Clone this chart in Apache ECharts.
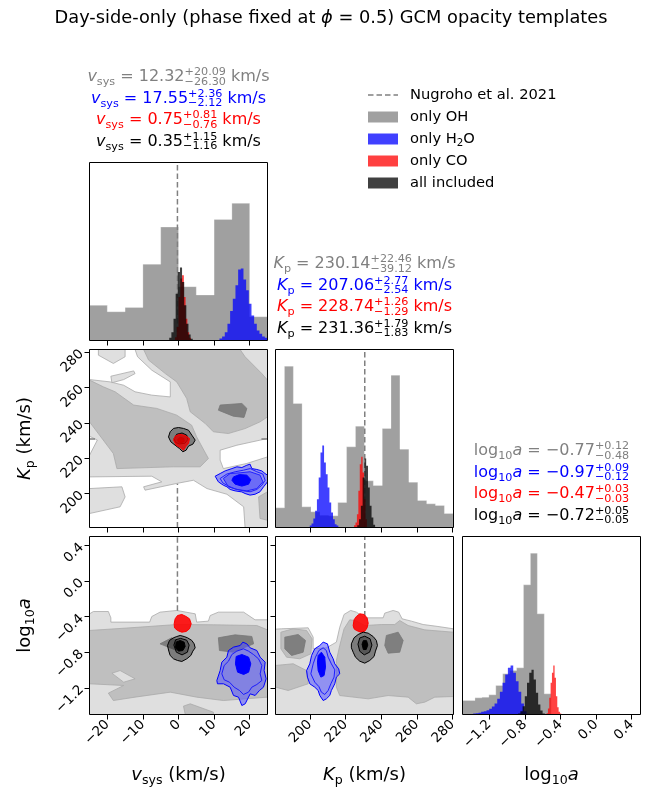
<!DOCTYPE html>
<html><head><meta charset="utf-8">
<script src="https://cdn.jsdelivr.net/npm/echarts@6/dist/echarts.min.js"></script>
<style>html,body{margin:0;padding:0;background:#fff}#c{width:662px;height:790px}</style>
</head><body><div id="c"></div>
<script>
// ---------------- DATA ----------------
const nugVsys = -0.3;
const nugKp = 230.8;

const vsysEdgesOH = [-25,-20,-15,-10,-5,0,5,10,15,20,25];
const vsysOH = [105,86,99,228,339,161,136,362,410,71];
const vsysEdgesH2O = [11.5,12.25,13,13.75,14.5,15.25,16,16.75,17.5,18.25,19,19.75,20.5,21.25,22,22.75,23.5,24.25,25];
const vsysH2O = [6,12,25,50,88,125,165,212,215,182,150,110,75,50,30,20,12,8];
const vsysEdgesCO = [-1,-0.5,0,0.5,1,1.5,2,2.5,3,3.5];
const vsysCO = [10,40,130,185,195,130,65,25,8];
const vsysEdgesAll = [-2.6,-2,-1.4,-0.8,-0.2,0.4,1,1.6,2.2,2.8,3.4,4];
const vsysAll = [8,25,65,140,205,218,175,105,50,18,5];

const kpEdgesOH = [180.8,185.8,190.8,195.7,200.7,205.7,210.7,215.7,220.6,225.6,230.6,235.6,240.6,245.5,250.5,255.5,260.5,265.5,270.4,275.4,280.4];
const kpOH = [59,484,372,62,47,37,35,75,242,304,140,126,297,457,235,136,81,71,66,42];
const kpEdgesH2O = [200,201,202,203,204,205,206,207,208,209,210,211,212,213,214,215,216];
const kpH2O = [6,12,27,50,85,150,225,246,195,160,120,75,45,25,10,6];
const kpEdgesCO = [224.8,225.6,226.4,227.2,228,228.8,229.6,230.4,231.2,232];
const kpCO = [7,15,40,110,190,212,165,85,25];
const kpEdgesAll = [226.6,227.6,228.6,229.6,230.6,231.6,232.6,233.6,234.6,235.6,236.6];
const kpAll = [7,25,65,150,207,185,120,65,30,8];

const logEdgesOH = [-1.5,-1.438,-1.36,-1.282,-1.204,-1.126,-1.048,-0.97,-0.892,-0.815,-0.737,-0.659,-0.581,-0.503];
const logOH = [42,42,50,52,59,87,122,132,140,389,484,302,62];
const logEdgesH2O = [-1.38,-1.35,-1.32,-1.29,-1.26,-1.23,-1.2,-1.17,-1.14,-1.11,-1.08,-1.05,-1.02,-0.99,-0.96,-0.93,-0.9,-0.87,-0.84,-0.81,-0.78,-0.75];
const logH2O = [3,4,5,8,10,13,17,24,33,47,68,95,120,140,147,125,100,68,33,10,2];
const logEdgesCO = [-0.555,-0.54,-0.525,-0.51,-0.495,-0.48,-0.465,-0.45,-0.435,-0.42,-0.405,-0.39,-0.375];
const logCO = [4,18,50,95,125,147,110,55,22,8,3,1];
const logEdgesAll = [-0.875,-0.85,-0.825,-0.8,-0.775,-0.75,-0.725,-0.7,-0.675,-0.65,-0.625,-0.6,-0.575];
const logAll = [3,10,25,55,95,125,134,105,65,30,12,3];

// OH contours (v_sys, K_p)
const ohVK_light = [[-25,180.8],[25,180.8],[25,281.4],[-25,281.4]];
const ohVK_white1 = [[-25,281.4],[-22.5,281.4],[-22.5,278.2],[-18.3,273.5],[-15,277.3],[-15,281.4],[-12.2,281.4],[-11.5,277.3],[-7.5,269.7],[-2.3,263.1],[-2.3,254.6],[-7.5,255.6],[-12.2,257.5],[-15.4,261.2],[-19.2,263.1],[-25,264.4]];
const ohVK_light3 = [[-19.0,266.3],[-12.6,269.3],[-12.2,267.8],[-15.4,264.4],[-18.7,262.6]];
const ohVK_white2 = [[-25,232.4],[-22.8,230.2],[-25,221.6]];
const ohVK_white3 = [[-25,209.4],[-7.5,209.8],[-4.7,206.6],[-9.8,203.8],[-9.4,201.9],[-0.5,205.7],[4.2,207.5],[8.0,202.8],[13.6,199.6],[18.3,192.5],[18.7,180.8],[-25,180.8]];
const ohVK_white4 = [[11.7,224.5],[16.4,227.3],[25,231.1],[25,220.7],[19.2,217.0],[12.6,214.1],[11.7,218.9]];
const ohVK_light2 = [[-25,202.8],[-15.9,203.8],[-15,198.1],[-16.4,192.5],[-25,188.7]];
const ohVK_mid1 = [[-9.8,281.4],[17.3,281.4],[18.7,277.3],[23.4,267.8],[25,264.1],[25,243.3],[22.9,240.5],[18.7,236.7],[14.0,233.9],[9.8,234.9],[7.5,239.6],[3.3,246.2],[2.3,253.7],[-0.5,263.1],[-3.7,267.8],[-8.4,275.4]];
const ohVK_mid2 = [[-25,264.1],[-21.1,260.3],[-17.8,257.5],[-12.6,250.0],[-6.1,248.1],[-0.5,244.3],[3.7,238.6],[5.1,232.0],[8.4,219.8],[6.1,215.1],[-1.4,215.1],[-17.3,214.1],[-18.3,222.6],[-25,240.5]];
const ohVK_mid3 = [[22.5,198.1],[25,201.0],[25,184.9],[22.9,185.9]];
const ohVK_dark1 = [[11.7,250.0],[17.8,250.9],[19.2,248.1],[18.4,243.0],[15.4,243.7],[11.2,247.1]];

// OH contours (v_sys, log10 a)
const ohVA_light = [[-25,-0.369],[-23.9,-0.343],[-19.7,-0.343],[-19.0,-0.414],[-19.0,-0.462],[-8.1,-0.462],[-7.5,-0.399],[-5.2,-0.350],[-0.5,-0.331],[4.7,-0.369],[5.1,-0.462],[8.4,-0.451],[8.9,-0.388],[11.2,-0.350],[18.3,-0.350],[21.5,-0.436],[25,-0.436],[25,-1.5],[-25,-1.5]];
const ohVA_mid1 = [[-25,-0.556],[-13.6,-0.526],[-0.5,-0.489],[9.8,-0.492],[22,-0.5],[25,-0.549],[25,-1.305],[12.6,-1.343],[5.1,-1.305],[-2.3,-1.249],[-12.2,-1.305],[-18.3,-1.343],[-19.7,-1.260],[-15.4,-1.174],[-25,-1.155]];
const ohVA_light2 = [[-18.7,-1.036],[-16.4,-1.006],[-12.2,-1.099],[-15.4,-1.137]];
const ohVA_mid2 = [[1.4,-1.406],[3.3,-1.380],[9.8,-1.474],[9.8,-1.5],[1.9,-1.5]];
const ohVA_dark1 = [[-5.2,-0.706],[-1.9,-0.638],[0.5,-0.687],[-0.5,-0.781]];
const ohVA_dark2 = [[11.2,-0.638],[15.9,-0.605],[20.6,-0.623],[21.1,-0.706],[15.4,-0.800],[11.5,-0.781]];

// OH contours (K_p, log10 a)
const ohKA_light = [[180.8,-0.541],[184.2,-0.537],[199.1,-0.526],[201.9,-0.631],[201.9,-0.762],[209.3,-0.751],[214.9,-0.687],[216.8,-0.519],[219.2,-0.376],[222.9,-0.331],[226.1,-0.350],[230.8,-0.414],[241.1,-0.414],[242.0,-0.361],[246.7,-0.331],[249.8,-0.350],[251.7,-0.425],[256.9,-0.451],[263.5,-0.489],[271.8,-0.511],[280.4,-0.537],[280.4,-1.5],[180.8,-1.5]];
const ohKA_mid1 = [[214.9,-0.893],[216.8,-0.725],[219.2,-0.537],[222.4,-0.436],[225.6,-0.444],[230.8,-0.5],[240.1,-0.489],[247.6,-0.489],[250.4,-0.444],[255.1,-0.5],[264.4,-0.549],[280.4,-0.575],[280.4,-1.298],[270,-1.305],[264.4,-1.361],[259.7,-1.380],[255.1,-1.305],[243.9,-1.287],[232.7,-1.324],[216.8,-1.287],[214.9,-1.193]];
const ohKA_mid2 = [[183.8,-0.575],[190.7,-0.537],[198.2,-0.556],[201.3,-0.650],[200.6,-0.818],[194.4,-0.874],[187.0,-0.856],[183.8,-0.762]];
const ohKA_mid3 = [[180.8,-0.949],[190.7,-0.93],[198.2,-1.006],[199.1,-1.155],[187.9,-1.230],[180.8,-1.193]];
const ohKA_dark1 = [[186.0,-0.631],[193.5,-0.601],[197.6,-0.668],[196.3,-0.800],[189.8,-0.837],[186.0,-0.762]];
const ohKA_dark2 = [[242.9,-0.612],[249.5,-0.575],[252.3,-0.668],[250.4,-0.800],[243.9,-0.811],[242.0,-0.725]];

// H2O / CO / all-included contours (v_sys, K_p)
const h2oVK_outer = [[10.3,209.8],[11.7,211.3],[13.1,212.8],[15.0,214.1],[16.4,215.1],[17.8,214.7],[19.2,216.0],[20.1,216.6],[20.6,214.1],[22.0,213.6],[23.4,212.8],[24.3,211.3],[25,210.4],[25,206.6],[23.9,203.8],[22.9,201.0],[21.5,199.6],[20.1,199.1],[18.7,200.0],[17.8,200.9],[15.9,201.5],[14.5,202.3],[13.6,203.8],[12.6,204.7],[11.2,206.6]];
const h2oVK_ring = [[11.7,208.5],[13.58,211.0],[15.92,212.3],[18.26,213.2],[20.13,214.1],[22.0,212.3],[23.69,211.0],[24.34,207.5],[23.41,204.7],[22.0,202.3],[20.13,201.0],[18.26,201.5],[15.92,202.6],[14.04,204.2],[12.45,206.0]];
const h2oVK_mid = [[12.6,208.5],[14.5,211.3],[17.3,211.7],[20.1,212.3],[22.9,210.4],[23.7,206.6],[22.0,202.8],[19.2,201.5],[16.4,202.3],[14.0,203.8]];
const h2oVK_core = [[15.45,209.4],[17.1,210.7],[19.2,210.4],[20.3,207.9],[19.7,205.3],[17.8,204.2],[15.9,205.3],[15.0,207.5]];
const coVK_outer = [[-1.41,230.2],[-0.94,232.4],[0.28,233.5],[1.87,232.8],[3.09,231.1],[2.81,228.3],[2.15,226.8],[1.40,224.5],[0.47,226.0],[-0.66,227.3]];
const coVK_core = [[-0.2,230.6],[0.5,231.8],[1.5,231.2],[1.6,229.5],[0.7,228.6],[-0.1,229.3]];
const allVK_outer = [[-2.81,232.0],[-2.34,234.9],[-1.41,236.8],[0.0,237.3],[1.40,236.8],[2.81,235.8],[3.74,233.0],[4.68,230.2],[4.03,227.9],[2.81,226.8],[2.15,224.5],[1.22,223.6],[0.28,225.4],[-0.94,227.3],[-2.15,229.2]];
const allVK_mid = [[-1.2,231.0],[-0.5,233.5],[1.0,234.2],[2.3,233.0],[2.6,230.5],[1.8,228.4],[0.2,228.0],[-0.9,229.0]];

// (v_sys, log10 a)
const h2oVA_outer = [[10.77,-1.118],[11.70,-1.006],[12.17,-0.912],[13.58,-0.856],[14.04,-0.781],[15.45,-0.743],[17.32,-0.725],[18.07,-0.687],[19.19,-0.706],[20.13,-0.751],[22.0,-0.781],[22.94,-0.856],[24.34,-0.912],[24.06,-1.006],[24.62,-1.099],[23.87,-1.193],[22.75,-1.230],[21.53,-1.286],[20.13,-1.268],[18.73,-1.380],[17.79,-1.399],[16.85,-1.305],[15.45,-1.286],[14.51,-1.193],[12.64,-1.155],[10.95,-1.155]];
const h2oVA_ring = [[12.17,-1.043],[12.83,-0.949],[14.04,-0.901],[14.98,-0.826],[16.38,-0.788],[18.26,-0.762],[19.66,-0.788],[21.06,-0.826],[22.47,-0.874],[23.41,-0.949],[22.94,-1.043],[23.41,-1.118],[22.0,-1.163],[20.6,-1.193],[19.66,-1.249],[18.26,-1.275],[17.13,-1.230],[15.64,-1.193],[14.32,-1.137],[12.83,-1.110]];
const h2oVA_core = [[16.2,-0.848],[17.8,-0.826],[19.7,-0.856],[20.3,-0.931],[19.7,-1.024],[18.3,-1.05],[16.6,-1.024],[16.0,-0.931]];
const coVA_outer = [[-1.22,-0.481],[-0.94,-0.425],[-0.28,-0.388],[0.93,-0.376],[2.15,-0.399],[3.09,-0.425],[3.56,-0.481],[3.09,-0.537],[2.15,-0.567],[0.93,-0.575],[-0.28,-0.556],[-1.12,-0.526]];
const allVA_outer = [[-3.09,-0.725],[-2.53,-0.668],[-1.41,-0.638],[-0.47,-0.624],[0.47,-0.612],[1.59,-0.624],[2.53,-0.638],[3.74,-0.668],[4.40,-0.706],[4.68,-0.751],[4.03,-0.788],[3.46,-0.837],[2.34,-0.874],[0.94,-0.904],[-0.28,-0.893],[-1.41,-0.874],[-2.34,-0.837],[-2.72,-0.788]];
const allVA_mid = [[-1.3,-0.72],[-0.8,-0.66],[0.6,-0.645],[2.3,-0.665],[3.0,-0.72],[2.5,-0.80],[1.0,-0.83],[-0.6,-0.80]];
const allVA_core = [[-0.66,-0.687],[0.47,-0.668],[1.59,-0.687],[1.87,-0.736],[1.22,-0.781],[0.0,-0.788],[-0.84,-0.751]];

// (K_p, log10 a)
const h2oKA_outer = [[198.7,-1.080],[198.2,-1.006],[200.0,-0.931],[201.0,-0.837],[202.8,-0.762],[205.6,-0.725],[207.5,-0.687],[209.9,-0.706],[211.2,-0.800],[213.1,-0.874],[214.0,-0.931],[216.2,-0.987],[216.8,-1.043],[214.9,-1.080],[214.0,-1.155],[212.1,-1.230],[211.2,-1.286],[209.3,-1.324],[207.5,-1.343],[205.6,-1.286],[204.7,-1.230],[202.8,-1.193],[200.0,-1.155]];
const h2oKA_ring = [[200.6,-1.043],[201.9,-0.931],[203.2,-0.856],[205.1,-0.781],[207.5,-0.751],[209.3,-0.781],[210.3,-0.856],[212.1,-0.931],[214.0,-0.998],[213.6,-1.080],[211.8,-1.155],[210.3,-1.230],[208.4,-1.275],[206.5,-1.249],[205.1,-1.186],[202.8,-1.137]];
const h2oKA_core = [[204.7,-0.837],[206.5,-0.800],[208.4,-0.856],[208.8,-0.968],[208.0,-1.062],[206.2,-1.080],[204.7,-1.006],[204.3,-0.912]];
const coKA_outer = [[224.3,-0.5],[224.8,-0.436],[226.1,-0.399],[228.0,-0.369],[230.4,-0.376],[232.1,-0.414],[232.7,-0.474],[232.1,-0.526],[230.8,-0.564],[228.6,-0.575],[226.1,-0.556],[224.8,-0.537]];
const allKA_outer = [[223.3,-0.706],[224.8,-0.638],[227.1,-0.601],[229.9,-0.575],[232.7,-0.586],[235.5,-0.624],[237.3,-0.668],[237.9,-0.725],[236.8,-0.788],[236.0,-0.848],[233.6,-0.893],[230.8,-0.923],[228.0,-0.901],[225.6,-0.856],[224.3,-0.800],[223.3,-0.751]];
const allKA_mid = [[227.0,-0.71],[228.0,-0.64],[230.8,-0.62],[233.8,-0.65],[234.8,-0.72],[233.5,-0.80],[230.5,-0.83],[228.0,-0.79]];
const allKA_core = [[229.3,-0.71],[230.0,-0.67],[231.8,-0.67],[232.5,-0.72],[231.6,-0.77],[230.0,-0.77]];

const vsysTicks = [-20,-10,0,10,20];
const kpTicks = [200,220,240,260,280];
const logTicks = [-1.2,-0.8,-0.4,0,0.4];

const vsysLabels = [['12.32','+20.09','−26.30'],['17.55','+2.36','−2.12'],['0.75','+0.81','−0.76'],['0.35','+1.15','−1.16']];
const kpLabels = [['230.14','+22.46','−39.12'],['207.06','+2.77','−2.54'],['228.74','+1.26','−1.29'],['231.36','+1.79','−1.83']];
const logLabels = [['−0.77','+0.12','−0.48'],['−0.97','+0.09','−0.12'],['−0.47','+0.03','−0.03'],['−0.72','+0.05','−0.05']];
const labelColors = ['#808080','#0000ff','#ff0000','#000000'];
const legendNames = ['only OH','only H2O','only CO','all included'];
const legendColors = ['#a0a0a0','#4040ff','#ff4040','#404040'];

// ---------------- LAYOUT / HELPERS ----------------
const FF = "'DejaVu Sans'";
const GRIDS = [
  {left:89.5, top:162.5}, {left:89.5, top:349.5}, {left:275.5, top:349.5},
  {left:89.5, top:536.5}, {left:275.5, top:536.5}, {left:462.5, top:536.5}
];
const PW = 178, PH = 178;
const cv = document.createElement('canvas').getContext('2d');
function fstr(s, it){ return (it ? 'italic ' : '') + s + 'px ' + FF; }
function tw(t, s, it){ cv.font = fstr(s, it); return cv.measureText(t).width; }
const MID = 0.33;
function tx(t, x, dy, s, it, color){
  return {type:'text', x:x, y:dy - MID*s, silent:true,
    style:{text:t, font:fstr(s,it), fill:color, textAlign:'left', textVerticalAlign:'middle'}};
}
function mathText(runs, x, y, opts){
  opts = opts || {};
  const color = opts.color || '#000';
  const ch = [];
  let cx = 0;
  runs.forEach(r => {
    if (r.sup !== undefined){
      ch.push(tx(r.sup, cx, r.dsup, r.s, false, color));
      ch.push(tx(r.sub, cx, r.dsub, r.s, false, color));
      cx += Math.max(tw(r.sup, r.s), tw(r.sub, r.s));
    } else {
      ch.push(tx(r.t, cx, r.dy || 0, r.s, r.i, color));
      cx += tw(r.t, r.s, r.i);
    }
  });
  const off = opts.align === 'left' ? 0 : -cx/2;
  ch.forEach(c => { c.x += off; });
  return {type:'group', x:x, y:y, rotation:opts.rot || 0, silent:true, z:50, children:ch};
}
function polySeries(gi, pts, style, z){
  return {type:'custom', coordinateSystem:'cartesian2d', xAxisIndex:gi, yAxisIndex:gi, clip:true, z:z, silent:true,
    data:pts, renderItem:(p, api) => p.dataIndex === 0 ?
      {type:'polygon', shape:{points:pts.map(q => api.coord(q))}, style:style} : null};
}
function histSeries(gi, edges, hs, color, z, stroke){
  const data = hs.map((h,i) => [edges[i], edges[i+1], h]);
  return {type:'custom', coordinateSystem:'cartesian2d', xAxisIndex:gi, yAxisIndex:gi, clip:true, z:z, silent:true,
    encode:{x:[0,1], y:2}, data:data,
    renderItem:(p, api) => {
      if (p.dataIndex !== 0) return null;
      const pts = [api.coord([edges[0], 0])];
      data.forEach(d => { pts.push(api.coord([d[0], d[2]])); pts.push(api.coord([d[1], d[2]])); });
      pts.push(api.coord([edges[edges.length-1], 0]));
      return {type:'polygon', shape:{points:pts}, style:{fill:color, opacity:0.75, stroke:stroke || 'none', lineWidth:1}};
    }};
}
const DASH = {color:'#808080', width:1.5, type:[5.5,3]};
function seg(gi, p0, p1, z){
  return {type:'line', xAxisIndex:gi, yAxisIndex:gi, data:[p0,p1], symbol:'none', silent:true, z:z, lineStyle:DASH};
}
function frameSeries(gi){
  return {type:'custom', coordinateSystem:'cartesian2d', xAxisIndex:gi, yAxisIndex:gi, clip:false, z:30, silent:true,
    data:[[0,0]], renderItem:(p, api) => {
      const c = p.coordSys;
      return {type:'rect', shape:{x:c.x, y:c.y, width:c.width, height:c.height}, style:{fill:'none', stroke:'#000', lineWidth:1}};
    }};
}
const fmtV = v => String(v).replace('-', '−');
const fmtK = v => String(v);
const fmtL = v => (v < 0 ? '−' : '') + Math.abs(v).toFixed(1);
function ax(gi, min, max, ticks, showTicks, showLabels, fmt){
  return {type:'value', gridIndex:gi, min:min, max:max, splitLine:{show:false}, axisLine:{show:false, onZero:false},
    axisTick:{show:showTicks, customValues:ticks, length:5, lineStyle:{color:'#000', width:1}},
    axisLabel:{show:showLabels, customValues:ticks, rotate:45, margin:8, fontSize:13.5, fontFamily:'DejaVu Sans', color:'#000', formatter:fmt}};
}
function hiddenAx(gi, max){ return {type:'value', gridIndex:gi, min:0, max:max, show:false, axisLine:{onZero:false}}; }

// ---------------- SERIES ----------------
const LIGHT = '#dfdfdf', MIDG = '#bfbfbf', DARK = '#7f7f7f', EDGE = '#a9a9a9';
const sL = {fill:LIGHT, stroke:EDGE, lineWidth:0.8};
const sW = {fill:'#ffffff', stroke:EDGE, lineWidth:0.8};
const sM = {fill:MIDG, stroke:EDGE, lineWidth:0.8};
const sD = {fill:DARK, stroke:'#777', lineWidth:0.8};
const sBo = {fill:'rgba(80,80,255,0.55)', stroke:'#0000ff', lineWidth:1};
const sBr = {fill:'none', stroke:'#1010ff', lineWidth:0.9};
const sBm = {fill:'rgba(40,40,255,0.35)', stroke:'#2020ff', lineWidth:1};
const sBc = {fill:'#0000ff', stroke:'#0000ff', lineWidth:1};
const sRo = {fill:'rgba(255,0,0,0.88)', stroke:'#ff0000', lineWidth:1};
const sRc = {fill:'#d00000', stroke:'#cc0000', lineWidth:1};
const sKo = {fill:'rgba(0,0,0,0.35)', stroke:'#000', lineWidth:1};
const sKm = {fill:'rgba(0,0,0,0.3)', stroke:'#000', lineWidth:1};
const sKc = {fill:'#000', stroke:'#000', lineWidth:1};

const series = [
  // (0,0)
  histSeries(0, vsysEdgesOH, vsysOH, '#808080', 2, 'rgba(255,255,255,0.35)'),
  seg(0, [nugVsys,0], [nugVsys,532], 3),
  histSeries(0, vsysEdgesH2O, vsysH2O, '#0000ff', 4),
  histSeries(0, vsysEdgesCO, vsysCO, '#ff0000', 5),
  histSeries(0, vsysEdgesAll, vsysAll, '#000000', 6),
  // (1,0)
  polySeries(1, ohVK_light, sL, 2),
  polySeries(1, ohVK_white1, sW, 2), polySeries(1, ohVK_light3, sL, 2),
  polySeries(1, ohVK_white2, sW, 2), polySeries(1, ohVK_white3, sW, 2), polySeries(1, ohVK_white4, sW, 2),
  polySeries(1, ohVK_light2, sL, 2),
  polySeries(1, ohVK_mid1, sM, 2), polySeries(1, ohVK_mid2, sM, 2), polySeries(1, ohVK_mid3, sM, 2),
  polySeries(1, ohVK_dark1, sD, 2),
  seg(1, [nugVsys,180.8], [nugVsys,205.5], 3),
  seg(1, [-25,nugKp], [-23,nugKp], 3),
  seg(1, [23.3,nugKp], [25,nugKp], 3),
  polySeries(1, h2oVK_outer, sBo, 4), polySeries(1, h2oVK_ring, sBr, 4), polySeries(1, h2oVK_mid, sBm, 4), polySeries(1, h2oVK_core, sBc, 4),
  polySeries(1, allVK_outer, sKo, 5), polySeries(1, allVK_mid, sKm, 5),
  polySeries(1, coVK_outer, {fill:'rgba(230,0,0,0.8)', stroke:'#ff0000', lineWidth:1}, 6), polySeries(1, coVK_core, sRc, 6),
  // (1,1)
  histSeries(2, kpEdgesOH, kpOH, '#808080', 2, 'rgba(255,255,255,0.35)'),
  seg(2, [nugKp,0], [nugKp,534], 3),
  histSeries(2, kpEdgesH2O, kpH2O, '#0000ff', 4),
  histSeries(2, kpEdgesCO, kpCO, '#ff0000', 5),
  histSeries(2, kpEdgesAll, kpAll, '#000000', 6),
  // (2,0)
  polySeries(3, ohVA_light, sL, 2), polySeries(3, ohVA_mid1, sM, 2), polySeries(3, ohVA_light2, sL, 2),
  polySeries(3, ohVA_mid2, sM, 2), polySeries(3, ohVA_dark1, sD, 2), polySeries(3, ohVA_dark2, sD, 2),
  seg(3, [nugVsys,-0.335], [nugVsys,0.5], 3),
  polySeries(3, h2oVA_outer, sBo, 4), polySeries(3, h2oVA_ring, sBr, 4), polySeries(3, h2oVA_core, sBc, 4),
  polySeries(3, coVA_outer, sRo, 5),
  polySeries(3, allVA_outer, sKo, 6), polySeries(3, allVA_mid, sKm, 6), polySeries(3, allVA_core, sKc, 6),
  // (2,1)
  polySeries(4, ohKA_light, sL, 2), polySeries(4, ohKA_mid1, sM, 2), polySeries(4, ohKA_mid2, sM, 2), polySeries(4, ohKA_mid3, sM, 2),
  polySeries(4, ohKA_dark1, sD, 2), polySeries(4, ohKA_dark2, sD, 2),
  seg(4, [nugKp,-0.40], [nugKp,0.5], 3),
  polySeries(4, h2oKA_outer, sBo, 4), polySeries(4, h2oKA_ring, sBr, 4), polySeries(4, h2oKA_core, sBc, 4),
  polySeries(4, coKA_outer, sRo, 5),
  polySeries(4, allKA_outer, sKo, 6), polySeries(4, allKA_mid, sKm, 6), polySeries(4, allKA_core, sKc, 6),
  // (2,2)
  histSeries(5, logEdgesOH, logOH, '#808080', 2, 'rgba(255,255,255,0.35)'),
  histSeries(5, logEdgesH2O, logH2O, '#0000ff', 4),
  histSeries(5, logEdgesCO, logCO, '#ff0000', 5),
  histSeries(5, logEdgesAll, logAll, '#000000', 6)
];
for (let g = 0; g < 6; g++) series.push(frameSeries(g));

// ---------------- TEXT ----------------
const graphics = [];
const F = 16, f = 11.2;
graphics.push(mathText([{t:'Day-side-only (phase fixed at ', s:17.8}, {t:'ϕ', s:17.8, i:true}, {t:' = 0.5) GCM opacity templates', s:17.8}], 331, 24));
function annot(gi, labels, kind){
  const g = GRIDS[gi];
  labels.forEach((L, k) => {
    const st = {sup:L[1], sub:L[2], s:f, dsup:-6.3, dsub:3};
    let runs;
    if (kind === 'v') runs = [{t:'v', s:F, i:true}, {t:'sys', s:f, dy:3.5}, {t:' = ' + L[0], s:F}, st, {t:' km/s', s:F}];
    else if (kind === 'k') runs = [{t:'K', s:F, i:true}, {t:'p', s:f, dy:3.5}, {t:' = ' + L[0], s:F}, st, {t:' km/s', s:F}];
    else runs = [{t:'log', s:F}, {t:'10', s:f, dy:3.5}, {t:'a', s:F, i:true}, {t:' = ' + L[0], s:F}, st];
    graphics.push(mathText(runs, g.left + PW/2, g.top - 80 + 21.5*k, {color:labelColors[k]}));
  });
}
annot(0, vsysLabels, 'v');
annot(2, kpLabels, 'k');
annot(5, logLabels, 'l');

const AF = 18, af = 12.6;
graphics.push(mathText([{t:'v', s:AF, i:true}, {t:'sys', s:af, dy:4}, {t:' (km/s)', s:AF}], GRIDS[3].left + PW/2, 781));
graphics.push(mathText([{t:'K', s:AF, i:true}, {t:'p', s:af, dy:4}, {t:' (km/s)', s:AF}], GRIDS[4].left + PW/2, 781));
graphics.push(mathText([{t:'log', s:AF}, {t:'10', s:af, dy:4}, {t:'a', s:AF, i:true}], GRIDS[5].left + PW/2, 781));
graphics.push(mathText([{t:'K', s:AF, i:true}, {t:'p', s:af, dy:4}, {t:' (km/s)', s:AF}], 31, GRIDS[1].top + PH/2, {rot:Math.PI/2}));
graphics.push(mathText([{t:'log', s:AF}, {t:'10', s:af, dy:4}, {t:'a', s:AF, i:true}], 31, GRIDS[3].top + PH/2, {rot:Math.PI/2}));

const LX = 368, LT = 410, LF = 14.7;
graphics.push({type:'line', silent:true, z:50, shape:{x1:LX, y1:95, x2:LX+30, y2:95}, style:{stroke:'#808080', lineWidth:1.5, lineDash:[5.5,3]}});
graphics.push(mathText([{t:'Nugroho et al. 2021', s:LF}], LT, 100, {align:'left'}));
legendNames.forEach((nm, k) => {
  const yc = 117 + 22*k;
  graphics.push({type:'rect', silent:true, z:50, shape:{x:LX, y:yc-5.5, width:30, height:11}, style:{fill:legendColors[k]}});
  const runs = nm === 'only H2O' ? [{t:'only H', s:LF}, {t:'2', s:10.3, dy:3}, {t:'O', s:LF}] : [{t:nm, s:LF}];
  graphics.push(mathText(runs, LT, yc + 5, {align:'left'}));
});

const option = {
  animation:false,
  backgroundColor:'#ffffff',
  grid: GRIDS.map(g => ({left:g.left, top:g.top, width:PW, height:PH, show:false})),
  xAxis: [
    ax(0, -25, 25, vsysTicks, true, false, fmtV),
    ax(1, -25, 25, vsysTicks, true, false, fmtV),
    ax(2, 180.8, 280.5, kpTicks, true, false, fmtK),
    ax(3, -25, 25, vsysTicks, true, true, fmtV),
    ax(4, 180.8, 280.5, kpTicks, true, true, fmtK),
    ax(5, -1.5, 0.5, logTicks, true, true, fmtL)
  ],
  yAxis: [
    hiddenAx(0, 532),
    ax(1, 180.8, 281.4, kpTicks, true, true, fmtK),
    hiddenAx(2, 534),
    ax(3, -1.5, 0.5, logTicks, true, true, fmtL),
    ax(4, -1.5, 0.5, logTicks, true, false, fmtL),
    hiddenAx(5, 534)
  ],
  series: series,
  graphic: graphics
};
const chart = echarts.init(document.getElementById('c'), null, {renderer:'canvas'});
chart.setOption(option);
</script></body></html>
